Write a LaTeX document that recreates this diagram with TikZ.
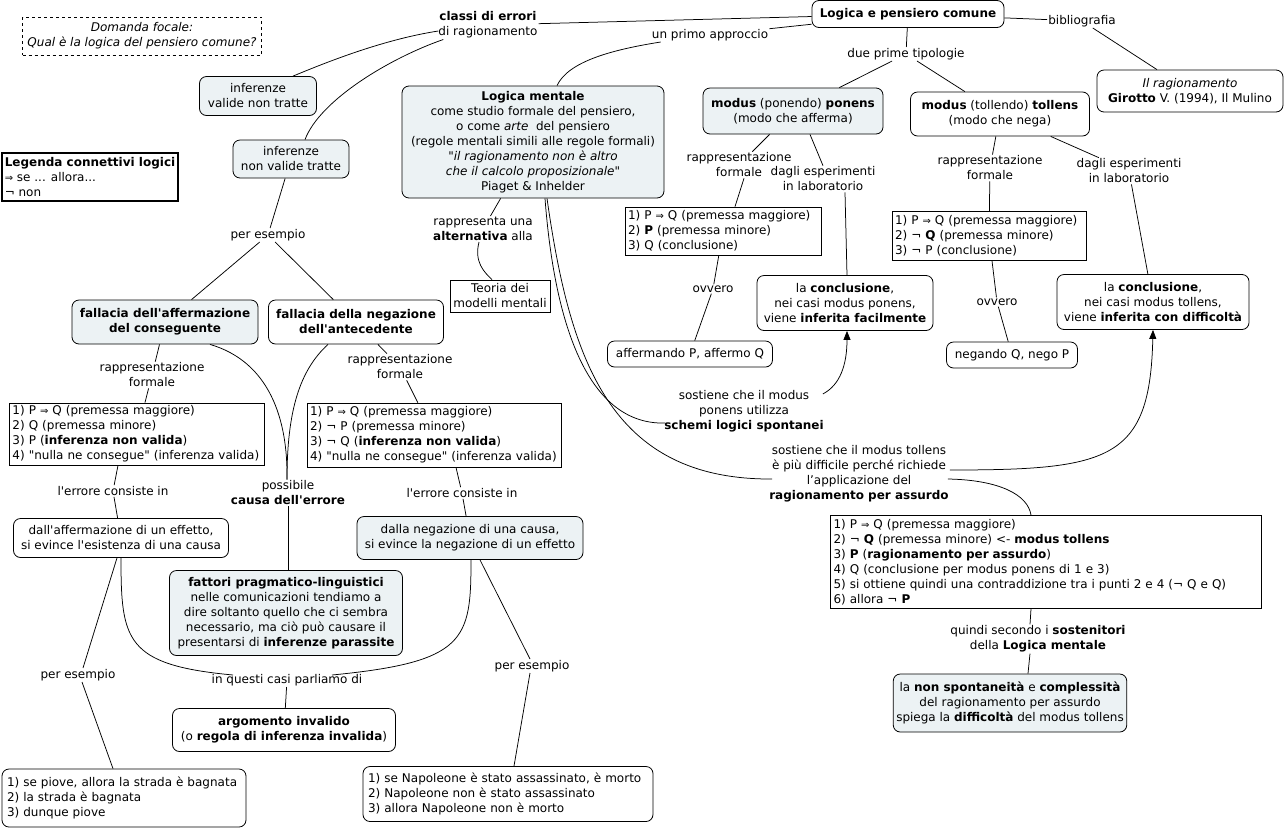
\documentclass[tikz,border=0pt]{standalone}
\usepackage{fontspec}
\setmainfont{DejaVu Sans}[Ligatures=TeXOff]
\usetikzlibrary{arrows.meta,calc}
\definecolor{cbg}{RGB}{236,242,244}
\newcommand\impl{{\fontsize{10}{15}\selectfont ⇒}}
\begin{document}
\begin{tikzpicture}[x=1pt,y=-1pt,
  every node/.style={font=\fontsize{12}{15}\selectfont},
  box/.style={draw, line width=0.8pt, rounded corners=7pt, align=center, inner xsep=3pt, inner ysep=2pt, fill=white},
  fbox/.style={box, fill=cbg},
  sbox/.style={draw, line width=0.8pt, align=left, inner xsep=3pt, inner ysep=2pt, fill=white},
  lbl/.style={align=center, inner sep=1pt},
  conn/.style={line width=0.75pt},
  arr/.style={conn, -{Triangle[length=9pt,width=7pt]}}]
\useasboundingbox (0,0) rectangle (1286,831);

% ---------- boxes ----------
\node[sbox, dashed, align=center, minimum width=239pt, minimum height=38pt] (dom) at (142,36) {\textit{Domanda focale:}\\\textit{Qual è la logica del pensiero comune?}};
\node[box, minimum width=192pt, minimum height=27pt] (lpc) at (908,14) {\textbf{Logica e pensiero comune}};
\node[box, minimum width=186pt, minimum height=42pt] (gir) at (1190,91) {\textit{Il ragionamento}\\\textbf{Girotto} V. (1994), Il Mulino};
\node[fbox, minimum width=180pt, minimum height=46pt] (pon) at (793,111) {\textbf{modus} (ponendo) \textbf{ponens}\\(modo che afferma)};
\node[box, minimum width=179pt, minimum height=44pt] (tol) at (1000,114) {\textbf{modus} (tollendo) \textbf{tollens}\\(modo che nega)};
\node[fbox, minimum width=117pt, minimum height=39pt] (ivt) at (258,96) {inferenze\\valide non tratte};
\node[fbox, minimum width=116pt, minimum height=38pt] (invt) at (291,159) {inferenze\\non valide tratte};
\node[fbox, minimum width=262pt, minimum height=112pt] (logm) at (533,142) {\textbf{Logica mentale}\\come studio formale del pensiero,\\o come \textit{arte}\ \ del pensiero\\(regole mentali simili alle regole formali)\\\textit{"il ragionamento non è altro}\\\textit{che il calcolo proposizionale"}\\Piaget \& Inhelder};
\node[sbox, line width=1.6pt, inner xsep=2pt, minimum width=176pt, minimum height=48pt] (leg) at (90,177) {\textbf{Legenda connettivi logici}\\\impl{} se ... allora...\\¬ non};
\node[sbox, text width=190pt, minimum height=48pt] (f1) at (723,231) {1) P \impl{} Q (premessa maggiore)\\2) \textbf{P} (premessa minore)\\3) Q (conclusione)};
\node[sbox, text width=188pt, minimum height=49pt] (f2) at (989,236) {1) P \impl{} Q (premessa maggiore)\\2) ¬ \textbf{Q} (premessa minore)\\3) ¬ P (conclusione)};
\node[box, minimum width=176pt, minimum height=55pt] (c1) at (845,303) {la \textbf{conclusione},\\nei casi modus ponens,\\viene \textbf{inferita facilmente}};
\node[box, minimum width=192pt, minimum height=55pt] (c2) at (1153,302) {la \textbf{conclusione},\\nei casi modus tollens,\\viene \textbf{inferita con difficoltà}};
\node[box, minimum width=165pt, minimum height=26pt] (aff) at (690,354) {affermando P, affermo Q};
\node[box, minimum width=131pt, minimum height=26pt] (neg) at (1012,355) {negando Q, nego P};
\node[sbox, align=center, minimum width=100pt, minimum height=32pt] (teo) at (500,296) {Teoria dei\\modelli mentali};
\node[fbox, minimum width=186pt, minimum height=44pt] (faff) at (165,322) {\textbf{fallacia dell'affermazione}\\\textbf{del conseguente}};
\node[box, minimum width=175pt, minimum height=44pt] (fneg) at (356,322) {\textbf{fallacia della negazione}\\\textbf{dell'antecedente}};
\node[sbox, text width=249pt, minimum height=62pt] (fA) at (137,434) {1) P \impl{} Q (premessa maggiore)\\2) Q (premessa minore)\\3) P (\textbf{inferenza non valida})\\4) "nulla ne consegue" (inferenza valida)};
\node[sbox, text width=248pt, minimum height=64pt] (fB) at (434,435) {1) P \impl{} Q (premessa maggiore)\\2) ¬ P (premessa minore)\\3) ¬ Q (\textbf{inferenza non valida})\\4) "nulla ne consegue" (inferenza valida)};
\node[box, minimum width=215pt, minimum height=39pt] (daff) at (121,538) {dall'affermazione di un effetto,\\si evince l'esistenza di una causa};
\node[fbox, minimum width=226pt, minimum height=43pt] (dneg) at (470,538) {dalla negazione di una causa,\\si evince la negazione di un effetto};
\node[sbox, text width=425pt, minimum height=93pt] (big) at (1046,562) {1) P \impl{} Q (premessa maggiore)\\2) ¬ \textbf{Q} (premessa minore) <- \textbf{modus tollens}\\3) \textbf{P} (\textbf{ragionamento per assurdo})\\4) Q (conclusione per modus ponens di 1 e 3)\\5) si ottiene quindi una contraddizione tra i punti 2 e 4 (¬ Q e Q)\\6) allora ¬ \textbf{P}};
\node[fbox, minimum width=233pt, minimum height=85pt] (fat) at (286,613) {\textbf{fattori pragmatico-linguistici}\\nelle comunicazioni tendiamo a\\dire soltanto quello che ci sembra\\necessario, ma ciò può causare il\\presentarsi di \textbf{inferenze parassite}};
\node[box, minimum width=223pt, minimum height=43pt] (arg) at (284,730) {\textbf{argomento invalido}\\(o \textbf{regola di inferenza invalida})};
\node[fbox, minimum width=214pt, minimum height=58pt] (nsp) at (1010,703) {la \textbf{non spontaneità} e \textbf{complessità}\\del ragionamento per assurdo\\spiega la \textbf{difficoltà} del modus tollens};
\node[box, align=left, inner xsep=5pt, text width=234pt, minimum height=58pt] (pio) at (124,798) {1) se piove, allora la strada è bagnata\\2) la strada è bagnata\\3) dunque piove};
\node[box, align=left, inner xsep=5pt, text width=280pt, minimum height=55pt] (nap) at (508,794) {1) se Napoleone è stato assassinato, è morto\\2) Napoleone non è stato assassinato\\3) allora Napoleone non è morto};

% ---------- labels ----------
\node[lbl] (classi) at (488,25) {\textbf{classi di errori}\\di ragionamento};
\node[lbl] (primo) at (710,35) {un primo approccio};
\node[lbl] (due) at (906,54) {due prime tipologie};
\node[lbl] (bib) at (1082,21) {bibliografia};
\node[lbl] (rp1) at (739,165) {rappresentazione\\formale};
\node[lbl] (dagli1) at (823,179) {dagli esperimenti\\in laboratorio};
\node[lbl] (rp2) at (990,168) {rappresentazione\\formale};
\node[lbl] (dagli2) at (1129,171) {dagli esperimenti\\in laboratorio};
\node[lbl] (ov1) at (713,289) {ovvero};
\node[lbl] (ov2) at (997,302) {ovvero};
\node[lbl] (peres) at (268,235) {per esempio};
\node[lbl] (alt) at (483,229) {rappresenta una\\\textbf{alternativa} alla};
\node[lbl] (rpA) at (152,375) {rappresentazione\\formale};
\node[lbl] (rpB) at (400,367) {rappresentazione\\formale};
\node[lbl] (sost1) at (744,411) {sostiene che il modus\\ponens utilizza\\\textbf{schemi logici spontanei}};
\node[lbl] (sost2) at (859,474) {sostiene che il modus tollens\\è più difficile perché richiede\\l’applicazione del\\\textbf{ragionamento per assurdo}};
\node[lbl] (err1) at (113,491) {l'errore consiste in};
\node[lbl] (causa) at (288,493) {possibile\\\textbf{causa dell'errore}};
\node[lbl] (err2) at (462,493) {l'errore consiste in};
\node[lbl] (quindi) at (1038,639) {quindi secondo i \textbf{sostenitori}\\della \textbf{Logica mentale}};
\node[lbl] (peresL) at (78,675) {per esempio};
\node[lbl] (questi) at (287,680) {in questi casi parliamo di};
\node[lbl] (peresR) at (532,666) {per esempio};

% ---------- connectors ----------
\draw[conn] (lpc) -- (classi);
\draw[conn] (lpc) -- (primo);
\draw[conn] ($(primo.south west)+(10,0)$) .. controls (610,50) and (568,62) .. ($(logm.north)+(24,0)$);
\draw[conn] (lpc) -- (due);
\draw[conn] (due) -- (pon);
\draw[conn] (due) -- (tol);
\draw[conn] (lpc) -- (bib);
\draw[conn] (bib) -- (gir);
\draw[conn] (pon) -- (rp1);
\draw[conn] ($(rp1.south)+(5,0)$) -- ($(f1.north)+(12,0)$);
\draw[conn] ($(pon.south)+(17,0)$) -- (dagli1.north);
\draw[conn] ($(dagli1.south)+(22,0)$) -- ($(c1.north)+(2,0)$);
\draw[conn] (tol) -- (rp2);
\draw[conn] (rp2) -- (f2);
\draw[conn] (tol) -- (dagli2);
\draw[conn] (dagli2) -- (c2);
\draw[conn] (f1) -- (ov1);
\draw[conn] (ov1) -- (aff);
\draw[conn] (f2) -- (ov2);
\draw[conn] (ov2) -- (neg);

\draw[conn] ($(classi.west)+(1,6)$) .. controls (380,40) and (320,65) .. ($(ivt.north)+(35,0)$);
\draw[conn] ($(classi.south west)+(6,0)$) .. controls (390,58) and (320,100) .. ($(invt.north)+(14,0)$);

\draw[conn] (logm) -- (alt);
\draw[conn] ($(alt.south)+(-4,0)$) .. controls (474,262) and (484,272) .. ($(teo.north)+(-8,0)$);
\draw[conn] ($(logm.south)+(12,0)$) .. controls (555,330) and (590,425) .. ($(sost1.south west)+(2,-10)$);
\draw[conn] ($(logm.south)+(14,0)$) .. controls (570,360) and (610,480) .. ($(sost2.west)+(4,5)$);
\draw[arr] ($(sost1.north east)+(-2,5)$) .. controls (840,385) and (847,365) .. ($(c1.south)+(2,0)$);
\draw[arr] ($(sost2.east)+(0,-4)$) .. controls (1110,470) and (1150,460) .. (c2.south);
\draw[conn] ($(sost2.east)+(-2,5)$) .. controls (1000,480) and (1028,495) .. ($(big.north)+(-15,0)$);
\draw[conn] ($(big.south)+(-15,0)$) -- ($(quindi.north)+(-8,0)$);
\draw[conn] ($(quindi.south)+(-8,0)$) -- ($(nsp.north)+(18,0)$);

\draw[conn] (invt) -- (peres);
\draw[conn] (peres) -- (faff);
\draw[conn] (peres) -- (fneg);
\draw[conn] (faff) -- (rpA);
\draw[conn] (rpA) -- (fA);
\draw[conn] (fneg) -- (rpB);
\draw[conn] (rpB) -- (fB);
\draw[conn] ($(faff.south)+(45,0)$) .. controls (270,362) and (288,420) .. ($(causa.north)+(-1,0)$);
\draw[conn] ($(fneg.south)+(-28,0)$) .. controls (300,370) and (287,410) .. ($(causa.north)+(-1,0)$);
\draw[conn] (causa.south) -- ($(fat.north)+(2,0)$);
\draw[conn] ($(fA.south)+(-19,0)$) -- (err1);
\draw[conn] (err1) -- (daff);
\draw[conn] ($(fB.south)+(22,0)$) -- (err2);
\draw[conn] (err2) -- (dneg);
\draw[conn] ($(daff.south)+(-4,0)$) -- ($(peresL.north)+(5,0)$);
\draw[conn] ($(peresL.south)+(4,0)$) -- ($(pio.north)+(-11,0)$);
\draw[conn] (daff.south) .. controls (121,640) and (125,665) .. ($(questi.north)+(-54,2)$);
\draw[conn] ($(dneg.south)+(1,0)$) .. controls (471,640) and (466,662) .. ($(questi.north)+(45,2)$);
\draw[conn] (questi) -- (arg);
\draw[conn] ($(dneg.south)+(10,0)$) -- ($(peresR.north)+(-2,0)$);
\draw[conn] ($(peresR.south)+(-2,0)$) -- ($(nap.north)+(6,0)$);
\end{tikzpicture}
\end{document}
